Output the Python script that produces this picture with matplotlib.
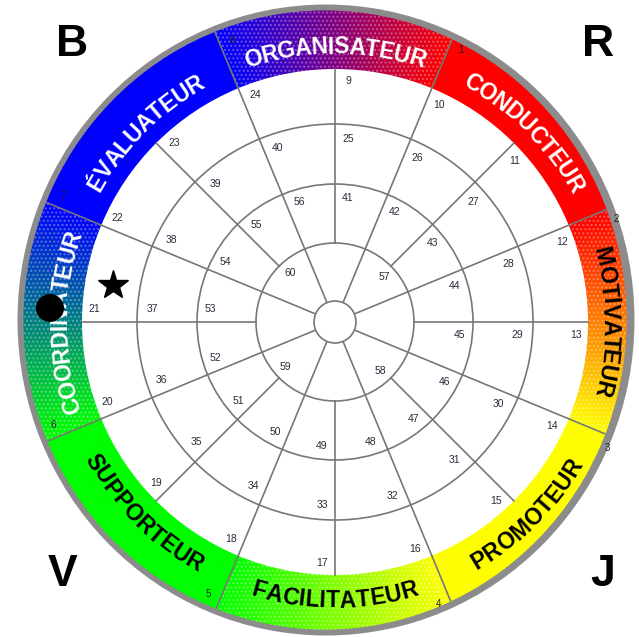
import numpy as np
import matplotlib
matplotlib.use("Agg")
import matplotlib.pyplot as plt
from matplotlib.patches import Wedge, Circle, Ellipse
from matplotlib.colors import to_rgb
from matplotlib.font_manager import FontProperties

# sectors of the outer band, clockwise from the top
sector_names = ["ORGANISATEUR", "CONDUCTEUR", "MOTIVATEUR", "PROMOTEUR",
                "FACILITATEUR", "SUPPORTEUR", "COORDINATEUR", "ÉVALUATEUR"]
sector_ids = [8, 1, 2, 3, 4, 5, 6, 7]
sector_centres = [90, 45, 0, -45, -90, -135, 180, 135]
colour_hi = ["#0000ff", "#ff0000", "#ff0000", "#ffff00",
             "#ffff00", "#00ff00", "#00ff00", "#0000ff"]   # ccw end
colour_lo = ["#ff0000", "#ff0000", "#ffff00", "#ffff00",
             "#00ff00", "#00ff00", "#0000ff", "#0000ff"]   # cw end
text_colours = ["white", "white", "black", "black", "black", "black", "white", "white"]

# numbers on the spokes, clockwise from the top
outer_labels = [9, 10, 11, 12, 13, 14, 15, 16, 17, 18, 19, 20, 21, 22, 23, 24]
ring3_labels = [25, 26, 27, 28, 29, 30, 31, 32, 33, 34, 35, 36, 37, 38, 39, 40]
ring2_labels = [41, 42, 43, 44, 45, 46, 47, 48, 49, 50, 51, 52, 53, 54, 55, 56]
core_labels = [57, 58, 59, 60]

corner_letters = ["B", "R", "V", "J"]

W, H = 639, 637
fig = plt.figure(figsize=(W / 100, H / 100), dpi=100)
ax = fig.add_axes([0, 0, 1, 1])
ax.set_xlim(0, W)
ax.set_ylim(0, H)
ax.axis("off")

cx, cy = 335, 315
R_WHITE = 253
rings = [79, 138, 198]
line_c = "#777777"
bold = FontProperties(family="Liberation Sans", weight="bold", size=16.5)


def pol(r, deg):
    a = np.radians(deg)
    return cx + r * np.cos(a), cy + r * np.sin(a)


def mix(c1, c2, t):
    return tuple((1 - t) * a + t * b for a, b in zip(to_rgb(c1), to_rgb(c2)))


# grey rim and coloured band (band is slightly off-centre, like the original)
ax.add_patch(Ellipse((326, 317), 617, 631, facecolor="#8c8c8c", edgecolor="none", zorder=1))
band = Ellipse((325, 317), 603, 619, facecolor="none", edgecolor="none", zorder=1)
ax.add_patch(band)

for i, c in enumerate(sector_centres):
    lo = c - 22.5
    n = 90
    for k in range(n):
        col = mix(colour_lo[i], colour_hi[i], (k + 0.5) / n)
        w = Wedge((cx, cy), 340, lo + k * 0.5, lo + (k + 1) * 0.5 + 0.05,
                  facecolor=col, edgecolor=col, lw=0.3, zorder=2)
        w.set_clip_path(band)
        ax.add_patch(w)
    if colour_lo[i] != colour_hi[i]:
        hw = Wedge((cx, cy), 340, lo, c + 22.5, facecolor="none",
                   edgecolor=(1, 1, 1, 0.3), hatch="....", lw=0, zorder=3)
        hw.set_clip_path(band)
        ax.add_patch(hw)

for c in sector_centres:
    a = c + 22.5
    x0, y0 = pol(R_WHITE, a)
    x1, y1 = pol(340, a)
    ln, = ax.plot([x0, x1], [y0, y1], color=line_c, lw=1.2, zorder=3)
    ln.set_clip_path(band)

# white disc, rings and spokes
ax.add_patch(Circle((cx, cy), R_WHITE, facecolor="white", edgecolor="none", zorder=4))
for r in rings:
    ax.add_patch(Circle((cx, cy), r, fill=False, edgecolor=line_c, lw=1.2, zorder=5))
ax.add_patch(Circle((cx, cy), 21, facecolor="white", edgecolor=line_c, lw=1.2, zorder=6))

for k in range(16):
    a = 90 - 22.5 * k
    r0 = 21 if k % 2 else 79
    x0, y0 = pol(r0, a)
    x1, y1 = pol(R_WHITE, a)
    ax.plot([x0, x1], [y0, y1], color=line_c, lw=1.2, zorder=5)


def spoke_label(num, r, deg, inward, tang):
    a = deg - np.degrees(tang / (r - inward))
    x, y = pol(r - inward, a)
    ax.text(x, y, str(num), fontsize=7.5, color="#2a2a3a", ha="center", va="center",
            family="Liberation Sans", zorder=7)


for k in range(16):
    a = 90 - 22.5 * k
    spoke_label(outer_labels[k], R_WHITE, a, 12, 13)
    spoke_label(ring3_labels[k], rings[2], a, 15, 13)
    spoke_label(ring2_labels[k], rings[1], a, 13, 13)
for k, num in enumerate(core_labels):
    spoke_label(num, rings[0], 45 - 90 * k, 12, 3)

# curved sector names
fig.canvas.draw()
renderer = fig.canvas.get_renderer()
R_TEXT = 277
track = 0.0
for i, name in enumerate(sector_names):
    widths = [renderer.get_text_width_height_descent(ch, bold, ismath=False)[0] + track
              for ch in name]
    total = sum(widths)
    cap = renderer.get_text_width_height_descent("H", bold, ismath=False)[1]
    outward = sector_centres[i] >= 0 or sector_centres[i] == 180
    cum = 0
    for ch, wch in zip(name, widths):
        d = np.degrees((cum + wch / 2 - total / 2) / R_TEXT)
        if outward:
            a = sector_centres[i] - d
            rb = R_TEXT - cap / 2
            rot = a - 90
        else:
            a = sector_centres[i] + d
            rb = R_TEXT + cap / 2
            rot = a + 90
        x, y = pol(rb, a)
        ax.text(x, y, ch, fontproperties=bold, color=text_colours[i], rotation=rot,
                rotation_mode="anchor", ha="center", va="baseline", zorder=8)
        cum += wch

# sector numbers near the ccw end of each sector
for i, num in enumerate(sector_ids):
    x, y = pol(300, sector_centres[i] + 22.5 - 2.4)
    ax.text(x, y, str(num), fontsize=7, color="#202020", ha="center", va="center",
            family="Liberation Sans", zorder=8)

# markers
ax.add_patch(Circle((50, 329), 14, facecolor="black", edgecolor="none", zorder=9))
ax.plot(113, 352, marker="*", ms=22, color="black", zorder=9)

# corner letters
for letter, (x, y) in zip(corner_letters, [(72, 593), (598, 593), (63, 62), (603, 62)]):
    ax.text(x, y, letter, fontsize=32, fontweight="bold", family="Liberation Sans",
            ha="center", va="center", color="black")

fig.savefig("out.png", dpi=100)
